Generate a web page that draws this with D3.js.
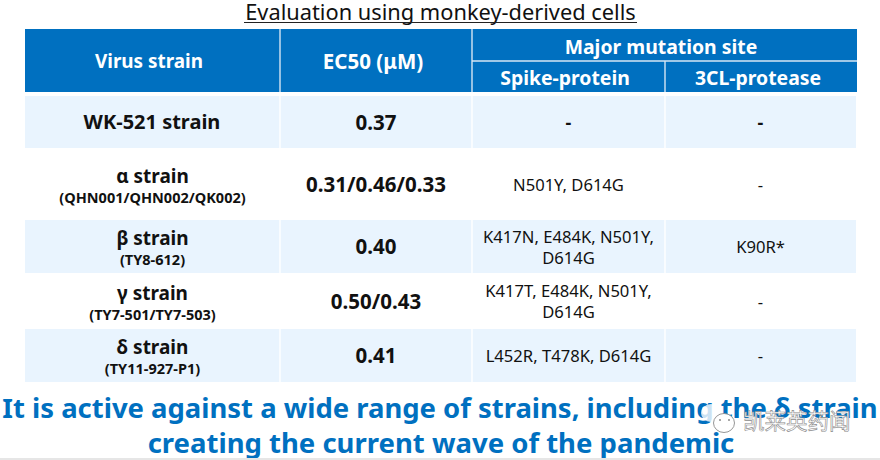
<!DOCTYPE html>
<html>
<head>
<meta charset="utf-8">
<script src="https://cdn.jsdelivr.net/npm/d3@7"></script>
<style>
  html, body { margin: 0; padding: 0; background: #fff; }
  text { font-family: "Noto Sans", "Open Sans", sans-serif; }
</style>
</head>
<body>
<svg id="chart"></svg>
<script>
// table contents
const strains = ["WK-521 strain", "α strain", "β strain", "γ strain", "δ strain"];
const isolates = ["", "(QHN001/QHN002/QK002)", "(TY8-612)", "(TY7-501/TY7-503)", "(TY11-927-P1)"];
const ec50 = ["0.37", "0.31/0.46/0.33", "0.40", "0.50/0.43", "0.41"];
const spike = [["-"], ["N501Y, D614G"], ["K417N, E484K, N501Y,", "D614G"], ["K417T, E484K, N501Y,", "D614G"], ["L452R, T478K, D614G"]];
const protease = ["-", "-", "K90R*", "-", "-"];

const title = "Evaluation using monkey-derived cells";
const footer = ["It is active against a wide range of strains, including the δ strain", "creating the current wave of the pandemic"];

// dimensions
const width = 880, height = 460;
const colEdges = [25, 280, 472, 665, 856];
const rowEdges = [96, 148, 220, 273, 329, 382];
const headTop = 29, headMid = 61, headBottom = 92;
const blue = "#0070c0", pale = "#e9f4fe";

const svg = d3.select("#chart").attr("width", width).attr("height", height)
  .style("display", "block");

// d3 scales, index to cell edge
const x = d3.scaleOrdinal().domain(d3.range(colEdges.length)).range(colEdges);
const y = d3.scaleOrdinal().domain(d3.range(rowEdges.length)).range(rowEdges);
const midX = i => (x(i) + x(i + 1)) / 2;
const midY = i => (y(i) + y(i + 1)) / 2;

function label(cx, cy, str, size, weight, fill) {
  return svg.append("text")
    .attr("x", cx).attr("y", cy)
    .attr("text-anchor", "middle")
    .attr("dominant-baseline", "central")
    .attr("font-size", size)
    .attr("font-weight", weight)
    .attr("fill", fill)
    .text(str);
}

// title
label(440.5, 11.5, title, 21.8, 400, "#111");
svg.append("line").attr("x1", 244).attr("x2", 637).attr("y1", 22.5).attr("y2", 22.5)
  .attr("stroke", "#222").attr("stroke-width", 1.2);

// header
svg.append("rect").attr("x", x(0)).attr("y", headTop)
  .attr("width", x(4) - x(0) + 1).attr("height", headBottom - headTop).attr("fill", blue);
[[x(1), headTop, x(1), headBottom], [x(2), headTop, x(2), headBottom],
 [x(2), headMid, x(4) + 1, headMid], [x(3), headMid, x(3), headBottom]].forEach(d => {
  svg.append("line").attr("x1", d[0]).attr("y1", d[1]).attr("x2", d[2]).attr("y2", d[3])
    .attr("stroke", "#d6e6f4").attr("stroke-width", 1.4);
});
const headY = (headTop + headBottom) / 2;
label(midX(0) - 3.5, headY + 0.5, "Virus strain", 18.9, 700, "#fff");
label(midX(1) - 3, headY, "EC50 (μM)", 20.5, 700, "#fff");
label((x(2) + x(4)) / 2 - 3, 46, "Major mutation site", 19.4, 700, "#fff");
label(midX(2) - 3.5, 77.5, "Spike-protein", 19.4, 700, "#fff");
label(midX(3) - 2.5, 77.5, "3CL-protease", 19.4, 700, "#fff");

// row bands
svg.append("g").selectAll("rect")
  .data(d3.range(strains.length).filter(i => i % 2 === 0))
  .join("rect")
  .attr("x", x(0)).attr("y", i => y(i))
  .attr("width", x(4) - x(0)).attr("height", i => y(i + 1) - y(i))
  .attr("fill", pale);

// white column gaps over the bands
svg.append("g").selectAll("line")
  .data([x(1), x(2), x(3)])
  .join("line")
  .attr("x1", d => d).attr("x2", d => d)
  .attr("y1", y(0)).attr("y2", y(5))
  .attr("stroke", "#fff").attr("stroke-width", 1.4);

// cells
strains.forEach((s, i) => {
  const cy = midY(i);
  if (isolates[i]) {
    label(midX(0), cy - 8.5, s, 19, 700, "#111");
    label(midX(0), cy + 12.5, isolates[i], 14.5, 700, "#111");
  } else {
    label(midX(0) - 0.5, cy - 1, s, 20, 700, "#111");
  }
  label(midX(1), cy - 0.5, ec50[i], 20.5, 700, "#111");

  const bold = i === 0;
  spike[i].forEach((line, k) => {
    label(midX(2), cy + (k - (spike[i].length - 1) / 2) * 21, line,
      bold ? 18 : 16.6, bold ? 700 : 400, "#111");
  });
  label(midX(3), cy, protease[i], bold ? 18 : 16.6, bold ? 700 : 400, "#111");
});

// footer
label(440, 407, footer[0], 27.45, 700, blue);
label(441, 442, footer[1], 27.5, 700, blue);

// watermark
const mark = svg.append("g").attr("fill", "#fff").attr("stroke", "#8a8a8a").attr("stroke-width", 0.9);
mark.append("ellipse").attr("cx", 711).attr("cy", 413).attr("rx", 10).attr("ry", 9)
  .attr("stroke", "none").attr("opacity", 0.8);
mark.append("ellipse").attr("cx", 724).attr("cy", 423).attr("rx", 10.5).attr("ry", 9.5);
mark.append("circle").attr("cx", 720).attr("cy", 420).attr("r", 1).attr("fill", "#8a8a8a").attr("stroke", "none");
mark.append("circle").attr("cx", 729).attr("cy", 420).attr("r", 1).attr("fill", "#8a8a8a").attr("stroke", "none");
svg.append("text").attr("x", 743).attr("y", 429)
  .style("font-family", '"Noto Sans CJK SC", sans-serif')
  .attr("font-size", 21.5)
  .attr("fill", "#fff").attr("stroke", "#8a8a8a").attr("stroke-width", 0.6)
  .text("凯莱英药闻");

// bottom edge of the screenshot
svg.append("rect").attr("x", 0).attr("y", 458).attr("width", width).attr("height", 2).attr("fill", "#e6e6e6");
</script>
</body>
</html>
